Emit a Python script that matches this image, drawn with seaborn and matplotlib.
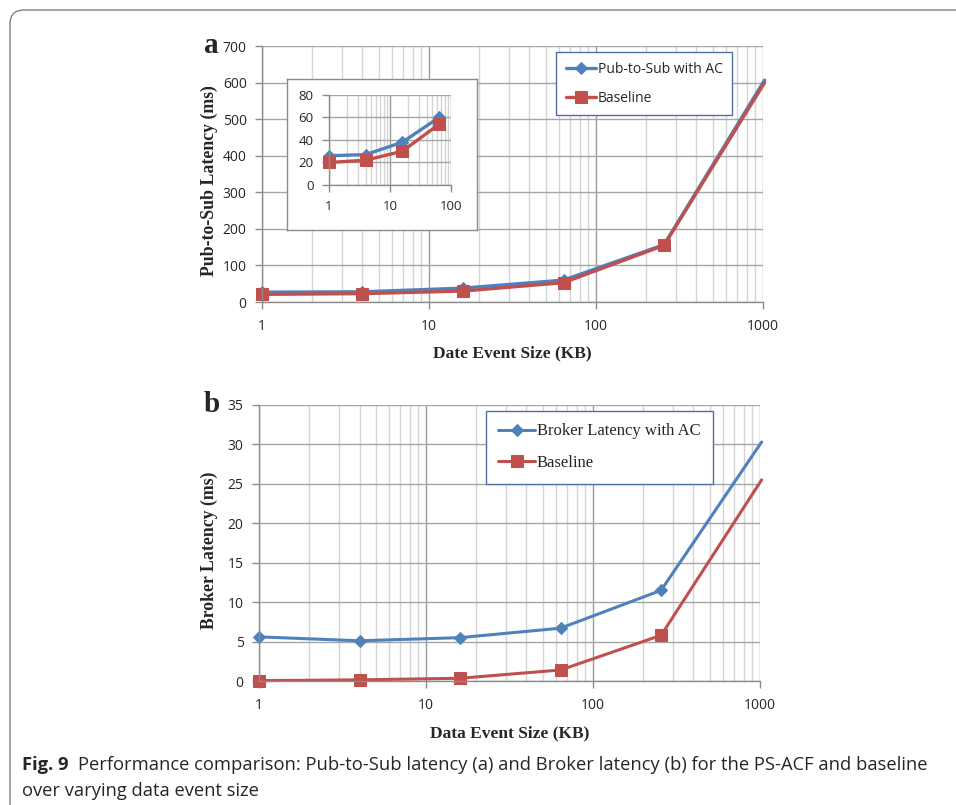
import matplotlib
matplotlib.use("Agg")
import matplotlib.pyplot as plt
import matplotlib.ticker as mticker
from matplotlib.patches import FancyBboxPatch
from matplotlib.transforms import IdentityTransform
import seaborn as sns

# data
sizes = [1, 4, 16, 64, 256, 1024]
pub_ac = [27, 28, 38, 60, 157, 607]
pub_base = [21, 23, 30, 53, 155, 600]

inset_sizes = [1, 4, 16, 64]
inset_ac = [26, 27, 38, 60]
inset_base = [20, 22, 30, 54]

broker_ac = [5.6, 5.1, 5.5, 6.7, 11.5, 30.3]
broker_base = [0.05, 0.15, 0.35, 1.4, 5.8, 25.5]

x_ticks = [1, 10, 100, 1000]
x_ticklabels = ["1", "10", "100", "1000"]
inset_xticks = [1, 10, 100]
inset_xticklabels = ["1", "10", "100"]

BLUE = "#4F81BD"
RED = "#C0504D"
SANS = ["Open Sans", "DejaVu Sans"]
SERIF = ["Liberation Serif", "DejaVu Serif"]

sns.set_style("white")
plt.rcParams["font.family"] = SANS

fig = plt.figure(figsize=(9.56, 8.05), dpi=100)


def excel_axes(ax, xlim, ylim, yticks, xt, xtl, fs=10):
    ax.set_xscale("log")
    ax.set_xlim(*xlim)
    ax.set_ylim(*ylim)
    ax.set_yticks(yticks)
    ax.set_xticks(xt)
    ax.set_xticklabels(xtl)
    ax.xaxis.set_minor_locator(mticker.LogLocator(base=10, subs=range(2, 10)))
    ax.xaxis.set_minor_formatter(mticker.NullFormatter())
    ax.grid(which="major", axis="x", color="#9a9a9a", lw=1)
    ax.grid(which="minor", axis="x", color="#d4d4d4", lw=1)
    ax.grid(which="major", axis="y", color="#a6a6a6", lw=1)
    ax.set_axisbelow(True)
    for s in ["top", "right"]:
        ax.spines[s].set_visible(False)
    for s in ["left", "bottom"]:
        ax.spines[s].set_color("#8c8c8c")
        ax.spines[s].set_linewidth(1)
    ax.tick_params(axis="y", which="major", left=True, length=5, width=1,
                   color="#8c8c8c", labelsize=fs, pad=6)
    ax.tick_params(axis="x", which="major", bottom=True, length=5, width=1,
                   color="#8c8c8c", labelsize=fs, pad=7)
    ax.tick_params(axis="x", which="minor", bottom=False)


def draw(ax, xs, a, b, la, lb, lw=2.4, ms_d=6, ms_s=9):
    # last point (1024) lies just past the axis end, so no marker there
    keep = [i for i, v in enumerate(xs) if v <= ax.get_xlim()[1]]
    sns.lineplot(x=xs, y=a, ax=ax, color=BLUE, lw=lw, marker="D", markersize=ms_d,
                 markeredgecolor=BLUE, label=la, clip_on=False, markevery=keep)
    sns.lineplot(x=xs, y=b, ax=ax, color=RED, lw=lw, marker="s", markersize=ms_s,
                 markeredgecolor=RED, label=lb, clip_on=False, markevery=keep)


# ---- panel a
ax1 = fig.add_axes([0.274, 0.6248, 0.524, 0.318])
excel_axes(ax1, (1, 1000), (0, 700), range(0, 701, 100), x_ticks, x_ticklabels)
draw(ax1, sizes, pub_ac, pub_base, "Pub-to-Sub with AC", "Baseline")
ax1.set_xlabel("Date Event Size (KB)", family=SERIF, fontweight="bold",
               fontsize=12.5, va="top")
ax1.xaxis.set_label_coords(0.5, -0.168)
ax1.set_ylabel("Pub-to-Sub Latency (ms)", family=SERIF, fontweight="bold",
               fontsize=12.8)
ax1.yaxis.set_label_coords(-0.0878, 0.473)
leg = ax1.legend(loc="upper left", bbox_to_anchor=(0.587, 0.977), fontsize=10,
                 frameon=True, fancybox=False, edgecolor="#4F6F9F",
                 handlelength=2.2, borderpad=0.7, labelspacing=1.0,
                 handletextpad=0.1, framealpha=1, borderaxespad=0)
leg.get_frame().set_linewidth(1)
fig.text(0.221, 0.944, "a", family=SERIF, fontweight="bold", fontsize=21,
         ha="center", va="center")

# inset frame
box = fig.add_axes([0.300, 0.714, 0.199, 0.1876])
box.set_xticks([])
box.set_yticks([])
box.set_facecolor("white")
for s in box.spines.values():
    s.set_color("#8c8c8c")
    s.set_linewidth(1)

ins = fig.add_axes([0.344, 0.7702, 0.1276, 0.1118])
excel_axes(ins, (1, 100), (0, 80), range(0, 81, 20), inset_xticks,
           inset_xticklabels, fs=9.5)
ins.tick_params(axis="x", which="major", pad=6)
draw(ins, inset_sizes, inset_ac, inset_base, None, None, lw=2.4, ms_d=6, ms_s=9)
if ins.get_legend() is not None:
    ins.get_legend().remove()

# ---- panel b
ax2 = fig.add_axes([0.2709, 0.154, 0.524, 0.343])
excel_axes(ax2, (1, 1000), (0, 35), range(0, 36, 5), x_ticks, x_ticklabels)
draw(ax2, sizes, broker_ac, broker_base, "Broker Latency with AC", "Baseline",
     lw=2.2, ms_d=6, ms_s=9)
ax2.set_xlabel("Data Event Size (KB)", family=SERIF, fontweight="bold",
               fontsize=12.5, va="top")
ax2.xaxis.set_label_coords(0.5, -0.159)
ax2.set_ylabel("Broker Latency (ms)", family=SERIF, fontweight="bold",
               fontsize=12.8)
ax2.yaxis.set_label_coords(-0.0818, 0.475)
leg2 = ax2.legend(loc="upper left", bbox_to_anchor=(0.453, 0.978),
                  frameon=True, fancybox=False, edgecolor="#4F6F9F",
                  handlelength=2.2, borderpad=0.75, labelspacing=0.95,
                  handletextpad=0.1, framealpha=1, borderaxespad=0,
                  prop={"family": SERIF, "size": 12})
leg2.get_frame().set_linewidth(1)
fig.text(0.222, 0.497, "b", family=SERIF, fontweight="bold", fontsize=21,
         ha="center", va="center")

# ---- outer rounded border
border = FancyBboxPatch((10, -60), 1000, 855,
                        boxstyle="round,pad=0,rounding_size=14",
                        transform=IdentityTransform(), facecolor="none",
                        edgecolor="#7f7f7f", lw=1)
fig.add_artist(border)

# ---- caption
CAP = ["Open Sans", "DejaVu Sans"]
t0 = fig.text(22 / 956, 1 - 765 / 805, "Fig. 9", family=CAP, fontweight="bold",
              fontsize=13.2, va="center", ha="left")
fig.canvas.draw()
bb = t0.get_window_extent()
fig.text((bb.x1 + 9) / 956, 1 - 765 / 805,
         "Performance comparison: Pub-to-Sub latency (a) and Broker latency (b) "
         "for the PS-ACF and baseline", family=CAP, fontsize=13.2, va="center",
         ha="left")
fig.text(22 / 956, 1 - 791 / 805, "over varying data event size", family=CAP,
         fontsize=13.2, va="center", ha="left")

fig.savefig("out.png", dpi=100)
